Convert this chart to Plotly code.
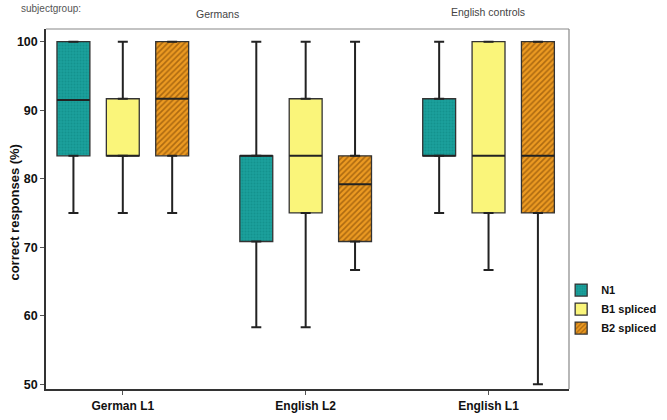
import plotly.graph_objects as go

groups = ["German L1", "English L2", "English L1"]
series = ["N1", "B1 spliced", "B2 spliced"]

# box statistics per series, per group (German L1, English L2, English L1)
lower = {"N1": [75.0, 58.33, 75.0], "B1 spliced": [75.0, 58.33, 66.67], "B2 spliced": [75.0, 66.67, 50.0]}
q1 = {"N1": [83.33, 70.83, 83.33], "B1 spliced": [83.33, 75.0, 75.0], "B2 spliced": [83.33, 70.83, 75.0]}
median = {"N1": [91.5, 83.33, 83.33], "B1 spliced": [83.33, 83.33, 83.33], "B2 spliced": [91.67, 79.17, 83.33]}
q3 = {"N1": [100.0, 83.33, 91.67], "B1 spliced": [91.67, 91.67, 100.0], "B2 spliced": [100.0, 83.33, 100.0]}
upper = {"N1": [100.0, 100.0, 100.0], "B1 spliced": [100.0, 100.0, 100.0], "B2 spliced": [100.0, 100.0, 100.0]}

colors = {"N1": "#1b9f9b", "B1 spliced": "#faf57a", "B2 spliced": "#ec9a22"}
patterns = {
    "N1": dict(shape=".", fgcolor="#0d8582", size=3, solidity=0.35),
    "B1 spliced": dict(shape=""),
    "B2 spliced": dict(shape="/", fgcolor="#6e3a00", size=4, solidity=0.4),
}

offsets = [-0.27, 0.0, 0.27]
box_w = 0.18

fig = go.Figure()
for si, s in enumerate(series):
    xs = [gi + offsets[si] for gi in range(len(groups))]
    fig.add_trace(go.Bar(
        x=xs, base=q1[s], y=[b - a for a, b in zip(q1[s], q3[s])], width=box_w,
        name=s, legendgroup=s,
        marker=dict(color=colors[s], pattern=patterns[s], line=dict(color="#333333", width=1.3)),
        hoverinfo="skip",
    ))
    # upper whisker
    fig.add_trace(go.Scatter(
        x=xs, y=q3[s], mode="markers", marker=dict(size=1, opacity=0), showlegend=False,
        error_y=dict(type="data", symmetric=False, array=[u - b for u, b in zip(upper[s], q3[s])],
                     arrayminus=[0] * 3, width=5, thickness=2, color="#222222"),
        hoverinfo="skip",
    ))
    # lower whisker
    fig.add_trace(go.Scatter(
        x=xs, y=q1[s], mode="markers", marker=dict(size=1, opacity=0), showlegend=False,
        error_y=dict(type="data", symmetric=False, array=[0] * 3,
                     arrayminus=[a - l for a, l in zip(q1[s], lower[s])], width=5, thickness=2, color="#222222"),
        hoverinfo="skip",
    ))
    # median lines
    mx, my = [], []
    for x, m in zip(xs, median[s]):
        mx += [x - box_w / 2, x + box_w / 2, None]
        my += [m, m, None]
    fig.add_trace(go.Scatter(x=mx, y=my, mode="lines", line=dict(color="#222222", width=2),
                             showlegend=False, hoverinfo="skip"))

font = "Liberation Sans"
fig.update_layout(
    width=667, height=420,
    margin=dict(l=46, r=98, t=29, b=31, autoexpand=False),
    paper_bgcolor="white", plot_bgcolor="white",
    barmode="overlay",
    font=dict(family=font, size=12, color="#111111"),
    showlegend=True,
    legend=dict(x=0.985, xanchor="left", y=0.315, yanchor="top",
                font=dict(family=font, size=11, color="#111111", weight="bold"),
                tracegroupgap=0, itemwidth=30, bgcolor="rgba(0,0,0,0)"),
    xaxis=dict(range=[-0.42, 2.44], tickvals=list(range(len(groups))), ticktext=groups,
               showgrid=False, zeroline=False, showline=True, linecolor="#333333", linewidth=1.5,
               ticks="outside", ticklen=4, tickcolor="#555555", ticklabelstandoff=1,
               tickfont=dict(family=font, size=12, weight="bold"), mirror=False),
    yaxis=dict(range=[49.3, 101.85], tickvals=[50, 60, 70, 80, 90, 100],
               showgrid=False, zeroline=False, showline=True, linecolor="#333333", linewidth=1.5,
               ticks="outside", ticklen=4, tickcolor="#555555",
               tickfont=dict(family=font, size=12.5, weight="bold")),
    shapes=[
        dict(type="line", xref="paper", yref="paper", x0=0, x1=1, y0=1, y1=1, line=dict(color="#888888", width=1.2)),
        dict(type="line", xref="paper", yref="paper", x0=1, x1=1, y0=0, y1=1, line=dict(color="#888888", width=1.2)),
    ],
    annotations=[
        dict(text="correct responses (%)", xref="paper", yref="paper", x=0, xshift=-31, y=0.49,
             textangle=-90, xanchor="center", yanchor="middle", showarrow=False,
             font=dict(family=font, size=13, weight="bold", color="#111111")),
        dict(text="subjectgroup:", xref="paper", yref="paper", x=0, xshift=-27, y=1.0, yshift=21,
             xanchor="left", yanchor="middle", showarrow=False, font=dict(family=font, size=10, color="#555555")),
        dict(text="Germans", xref="paper", yref="paper", x=(217 - 46) / 523, y=1.0, yshift=15,
             xanchor="center", yanchor="middle", showarrow=False, font=dict(family=font, size=10.5, color="#444444")),
        dict(text="English controls", xref="paper", yref="paper", x=(488 - 46) / 523, y=1.0, yshift=17,
             xanchor="center", yanchor="middle", showarrow=False, font=dict(family=font, size=10.5, color="#444444")),
    ],
)

fig.write_html("out.html")
